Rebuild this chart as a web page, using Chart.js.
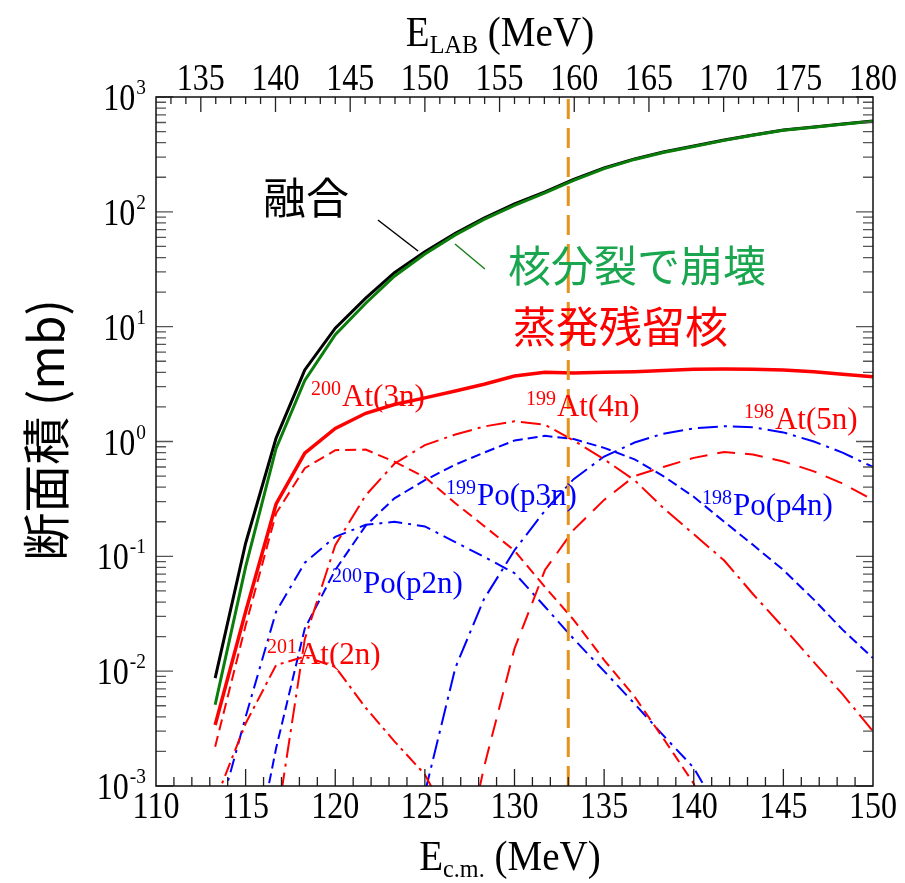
<!DOCTYPE html>
<html>
<head>
<meta charset="utf-8">
<script src="https://cdn.jsdelivr.net/npm/chart.js@4.4.1/dist/chart.umd.min.js"></script>
<style>
  html, body { margin: 0; padding: 0; background: #fff; }
</style>
</head>
<body>
<canvas id="seccionesChart" width="905" height="883"></canvas>
<script>
// Energías del centro de masas donde están calculadas las curvas (MeV)
const energiaCM = [113.3, 115.0, 116.7, 118.3, 120.0, 121.7, 123.3, 125.0, 126.7, 128.3, 130.0,
  131.7, 133.3, 135.0, 136.7, 138.3, 140.0, 141.7, 143.3, 145.0, 146.7, 148.3, 150.0];

// Secciones eficaces (mb)
const fusion = [0.0087, 0.13, 1.07, 4.2, 9.7, 17.7, 29.5, 45, 65, 88, 117,
  149, 192, 241, 289, 332, 374, 422, 467, 516, 548, 582, 618];
const fision = [0.0051, 0.081, 0.87, 3.4, 8.5, 16, 27.5, 43, 63, 86, 114,
  146, 188, 238, 286, 329, 371, 419, 464, 513, 545, 579, 615];
const residuos = [0.0034, 0.033, 0.286, 0.79, 1.30, 1.76, 2.1, 2.4, 2.75, 3.15, 3.72,
  4.0, 3.95, 4.0, 4.05, 4.15, 4.26, 4.27, 4.25, 4.2, 4.05, 3.85, 3.67];
const at201 = [0.00074, 0.0035, 0.0113, 0.0134, 0.0109, 0.0048, 0.00245, 0.00126, 0.0004, null, null,
  null, null, null, null, null, null, null, null, null, null, null, null];
const at200 = [0.0022, 0.025, 0.237, 0.585, 0.84, 0.85, 0.667, 0.49, 0.29, 0.184, 0.112,
  0.054, 0.028, 0.0125, 0.006, 0.0026, 0.00105, 0.0002, null, null, null, null, null];
const at199 = [null, null, 0.00044, 0.019, 0.125, 0.34, 0.64, 0.93, 1.15, 1.35, 1.5,
  1.4, 1.02, 0.7, 0.46, 0.264, 0.156, 0.092, 0.047, 0.024, 0.012, 0.0063, 0.003];
const at198 = [null, null, null, null, null, null, null, null, 0.0001, 0.00146, 0.0157,
  0.076, 0.17, 0.31, 0.5, 0.6, 0.72, 0.81, 0.77, 0.67, 0.55, 0.43, 0.31];
const po200 = [0.00043, 0.004, 0.033, 0.088, 0.148, 0.188, 0.2, 0.182, 0.133, 0.099, 0.0714,
  0.0364, 0.0191, 0.01, 0.0052, 0.00276, 0.00144, 0.0005, null, null, null, null, null];
const po199 = [null, 0.0001, 0.00213, 0.0235, 0.076, 0.185, 0.32, 0.46, 0.63, 0.8, 1.02,
  1.12, 1.05, 0.88, 0.7, 0.5, 0.33, 0.2, 0.126, 0.076, 0.042, 0.023, 0.013];
const po198 = [null, null, null, null, null, null, null, 0.00087, 0.0107, 0.0425, 0.113,
  0.25, 0.47, 0.74, 0.98, 1.17, 1.3, 1.36, 1.33, 1.2, 1.0, 0.8, 0.6];

// Energía marcada con la línea naranja (E_LAB = 160 MeV)
const energiaMarca = 133;

// Etiquetas de los ejes
const ticksCM = [110, 115, 120, 125, 130, 135, 140, 145, 150];
const ticksLAB = [135, 140, 145, 150, 155, 160, 165, 170, 175, 180];
const ticksY = [1e-3, 1e-2, 1e-1, 1e0, 1e1, 1e2, 1e3];

// Textos dentro del gráfico
const textosCJK = [
  { texto: '融合', x: 115.97, y: 132, color: '#000000' },
  { texto: '核分裂で崩壊', x: 129.64, y: 33.8, color: '#19a64f' },
  { texto: '蒸発残留核', x: 129.92, y: 10.1, color: '#ff0000' }
];
const lineasGuia = [
  { x1: 122.38, y1: 84.9, x2: 124.62, y2: 45.6, color: '#000000' },
  { x1: 126.68, y1: 52.5, x2: 128.35, y2: 31.8, color: '#1b7f1b' }
];
const nucleos = [
  { masa: '200', texto: 'At(3n)', x: 120.38, y: 2.04, color: '#ff0000' },
  { masa: '199', texto: 'At(4n)', x: 132.37, y: 1.67, color: '#ff0000' },
  { masa: '198', texto: 'At(5n)', x: 144.53, y: 1.285, color: '#ff0000' },
  { masa: '199', texto: 'Po(p3n)', x: 127.91, y: 0.28, color: '#0000ff' },
  { masa: '198', texto: 'Po(p4n)', x: 142.19, y: 0.229, color: '#0000ff' },
  { masa: '200', texto: 'Po(p2n)', x: 121.55, y: 0.048, color: '#0000ff' },
  { masa: '201', texto: 'At(2n)', x: 117.92, y: 0.0115, color: '#ff0000' }
];

const serif = '"Liberation Serif", "Times New Roman", Times, serif';
const cjk = '"Noto Sans CJK JP", "Noto Sans CJK SC", sans-serif';

const puntos = valores => energiaCM.map((e, i) => ({ x: e, y: valores[i] }));

// Escribe texto (con compresión horizontal opcional) y devuelve el ancho
function escribir(ctx, txt, x, y, tam, op = {}) {
    const familia = op.familia || serif;
    const escala = op.escala || 1;
    ctx.save();
    ctx.font = `${op.peso || 'normal'} ${tam}px ${familia}`;
    ctx.fillStyle = op.color || '#000';
    ctx.textBaseline = op.base || 'alphabetic';
    ctx.textAlign = 'left';
    const ancho = ctx.measureText(txt).width * escala;
    let x0 = x;
    if (op.alinear === 'center') x0 = x - ancho / 2;
    if (op.alinear === 'right') x0 = x - ancho;
    ctx.translate(x0, y);
    ctx.scale(escala, 1);
    ctx.fillText(txt, 0, 0);
    ctx.restore();
    return ancho;
}

function medir(ctx, txt, tam, familia, escala) {
    ctx.save();
    ctx.font = `${tam}px ${familia}`;
    const w = ctx.measureText(txt).width * escala;
    ctx.restore();
    return w;
}

// Marco, marcas hacia dentro, etiquetas y textos
const decoracion = {
    id: 'decoracion',
    afterDraw(chart) {
        const { ctx, chartArea: a, scales } = chart;
        const sx = scales.x, st = scales.xTop, sy = scales.y;

        ctx.save();
        ctx.lineWidth = 1.3;

        // Marcas eje inferior
        ctx.strokeStyle = '#222';
        ctx.beginPath();
        for (let v = 111; v < 150; v++) {
            const px = sx.getPixelForValue(v);
            const largo = v % 5 === 0 ? 17 : 9;
            ctx.moveTo(px, a.bottom);
            ctx.lineTo(px, a.bottom - largo);
        }
        // Marcas eje superior (E_LAB)
        for (let v = 133; v < 180; v++) {
            const px = st.getPixelForValue(v);
            const largo = v % 5 === 0 ? 15 : 7;
            ctx.moveTo(px, a.top);
            ctx.lineTo(px, a.top + largo);
        }
        ctx.stroke();

        // Marcas logarítmicas izquierda y derecha
        ctx.beginPath();
        for (let d = -3; d <= 3; d++) {
            for (let m = 1; m <= 9; m++) {
                if (d === 3 && m > 1) break;
                const py = sy.getPixelForValue(m * Math.pow(10, d));
                const largo = m === 1 ? 17 : 10;
                ctx.moveTo(a.left, py);
                ctx.lineTo(a.left + largo, py);
                ctx.moveTo(a.right, py);
                ctx.lineTo(a.right - largo, py);
            }
        }
        ctx.strokeStyle = '#555';
        ctx.stroke();

        // Marco
        ctx.lineWidth = 1.5;
        ctx.strokeStyle = '#111';
        ctx.strokeRect(a.left, a.top, a.right - a.left, a.bottom - a.top);

        // Líneas guía de las anotaciones
        lineasGuia.forEach(l => {
            ctx.beginPath();
            ctx.strokeStyle = l.color;
            ctx.lineWidth = 1.5;
            ctx.moveTo(sx.getPixelForValue(l.x1), sy.getPixelForValue(l.y1));
            ctx.lineTo(sx.getPixelForValue(l.x2), sy.getPixelForValue(l.y2));
            ctx.stroke();
        });
        ctx.restore();

        // Etiquetas de ticks
        sx.ticks.forEach(t => {
            escribir(ctx, String(t.value), sx.getPixelForValue(t.value), 818, 37, { escala: 0.865, alinear: 'center' });
        });
        st.ticks.forEach(t => {
            escribir(ctx, String(t.value), st.getPixelForValue(t.value), 90, 37, { escala: 0.865, alinear: 'center' });
        });
        sy.ticks.forEach(t => {
            const exp = Math.round(Math.log10(t.value));
            const py = sy.getPixelForValue(t.value);
            const wExp = escribir(ctx, String(exp), 146, py - 3, 22, { escala: 0.88, alinear: 'right' });
            escribir(ctx, '10', 146 - wExp - 1, py + 13, 37, { escala: 0.865, alinear: 'right' });
        });

        // Títulos de ejes con subíndices
        const tituloX = (centro, base, sub) => {
            const wE = medir(ctx, 'E', 42, serif, 0.93);
            const wS = medir(ctx, sub, 26, serif, 0.93);
            const wR = medir(ctx, ' (MeV)', 42, serif, 0.93);
            let x0 = centro - (wE + wS + wR) / 2;
            x0 += escribir(ctx, 'E', x0, base, 42, { escala: 0.93 });
            x0 += escribir(ctx, sub, x0, base + 7, 26, { escala: 0.93 });
            escribir(ctx, ' (MeV)', x0, base, 42, { escala: 0.93 });
        };
        tituloX(500, 46, 'LAB');
        tituloX(510, 870, 'c.m.');

        // Título eje Y
        ctx.save();
        ctx.translate(46, 430);
        ctx.rotate(-Math.PI / 2);
        escribir(ctx, '断面積 (mb)', 0, 0, 48, { familia: cjk, alinear: 'center', base: 'middle' });
        ctx.restore();

        // Anotaciones en japonés
        textosCJK.forEach(t => {
            escribir(ctx, t.texto, sx.getPixelForValue(t.x), sy.getPixelForValue(t.y), 43,
                { familia: cjk, color: t.color, base: 'middle' });
        });

        // Nombres de los canales
        nucleos.forEach(n => {
            const px = sx.getPixelForValue(n.x);
            const py = sy.getPixelForValue(n.y);
            escribir(ctx, n.masa, px - 1, py - 11, 20, { color: n.color, alinear: 'right' });
            escribir(ctx, n.texto, px, py, 31, { color: n.color });
        });
    }
};

const series = [
    { data: [{ x: energiaMarca, y: 1e-3 }, { x: energiaMarca, y: 1e3 }], borderColor: '#E8921E', borderWidth: 3, borderDash: [20, 9] },
    { data: puntos(fision), borderColor: '#0b7d0b', borderWidth: 3 },
    { data: puntos(fusion), borderColor: '#000000', borderWidth: 3 },
    { data: puntos(residuos), borderColor: '#ff0000', borderWidth: 3.5 },
    { data: puntos(at201), borderColor: '#ff0000', borderWidth: 2, borderDash: [14, 5, 3, 5] },
    { data: puntos(at200), borderColor: '#ff0000', borderWidth: 2, borderDash: [11, 6] },
    { data: puntos(at199), borderColor: '#ff0000', borderWidth: 2, borderDash: [20, 6, 3, 6] },
    { data: puntos(at198), borderColor: '#ff0000', borderWidth: 2, borderDash: [18, 10] },
    { data: puntos(po200), borderColor: '#0000ff', borderWidth: 2, borderDash: [14, 6, 3, 6] },
    { data: puntos(po199), borderColor: '#0000ff', borderWidth: 2, borderDash: [10, 5] },
    { data: puntos(po198), borderColor: '#0000ff', borderWidth: 2, borderDash: [20, 6, 3, 6] }
];

const ctxSecciones = document.getElementById('seccionesChart').getContext('2d');
new Chart(ctxSecciones, {
    type: 'line',
    data: { datasets: series },
    options: {
        responsive: false,
        animation: false,
        layout: { padding: { right: 32 } },
        elements: { point: { radius: 0 }, line: { tension: 0, fill: false } },
        plugins: {
            legend: { display: false },
            tooltip: { enabled: false }
        },
        scales: {
            x: {
                type: 'linear', position: 'bottom', min: 110, max: 150,
                grid: { display: false }, border: { display: false },
                ticks: { display: false },
                afterBuildTicks: s => { s.ticks = ticksCM.map(v => ({ value: v })); },
                afterFit: s => { s.height = 97; }
            },
            xTop: {
                type: 'linear', position: 'top', min: 132, max: 180,
                grid: { display: false }, border: { display: false },
                ticks: { display: false },
                afterBuildTicks: s => { s.ticks = ticksLAB.map(v => ({ value: v })); },
                afterFit: s => { s.height = 97; }
            },
            y: {
                type: 'logarithmic', position: 'left', min: 1e-3, max: 1e3,
                grid: { display: false }, border: { display: false },
                ticks: { display: false },
                afterBuildTicks: s => { s.ticks = ticksY.map(v => ({ value: v })); },
                afterFit: s => { s.width = 156; }
            }
        }
    },
    plugins: [decoracion]
});
</script>
</body>
</html>
